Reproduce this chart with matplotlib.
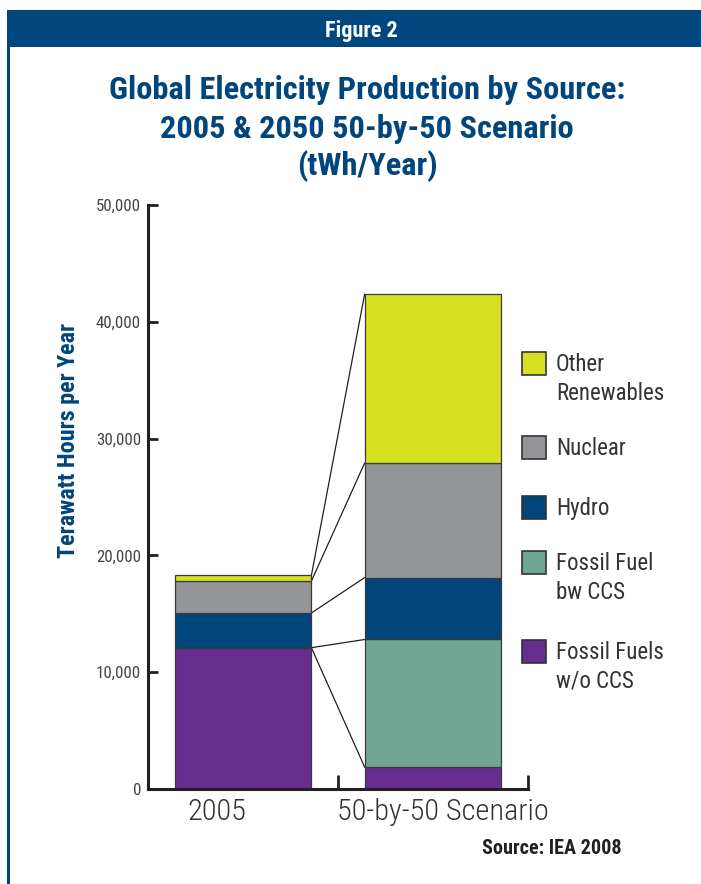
import numpy as np
import matplotlib
matplotlib.use('Agg')
import matplotlib.pyplot as plt
from matplotlib.patches import Rectangle
from matplotlib.ticker import FuncFormatter
from matplotlib import font_manager as fm
import matplotlib.transforms as mtransforms

# pick a narrow sans if one is around, otherwise plain DejaVu
names = {f.name for f in fm.fontManager.ttflist}
narrow = None
stretch = 'normal'
for n in ['Liberation Sans Narrow', 'Roboto Condensed', 'Noto Sans Condensed',
          'Open Sans Condensed', 'DejaVu Sans Condensed']:
    if n in names:
        narrow = n
        break
if narrow is None:
    for n in ['Noto Sans', 'Roboto', 'Open Sans', 'DejaVu Sans']:
        hits = [f for f in fm.fontManager.ttflist
                if f.name == n and f.stretch in ('condensed', 'semi-condensed', 'extra-condensed', 75, 87)]
        if hits:
            narrow = n
            stretch = hits[0].stretch
            break
if narrow is None:
    narrow = 'DejaVu Sans'
plt.rcParams['font.family'] = [narrow, 'DejaVu Sans']
plt.rcParams['font.stretch'] = stretch

# stacked production, TWh/year, bottom to top
categories = ['2005', '50-by-50 Scenario']
sources = ['Fossil Fuels\nw/o CCS', 'Fossil Fuel\nbw CCS', 'Hydro', 'Nuclear', 'Other\nRenewables']
fossil_no_ccs = [12100, 1880]
fossil_ccs = [0, 10920]
hydro = [2970, 5300]
nuclear = [2730, 9800]
other_renew = [500, 14450]
colors = ['#662d91', '#71a594', '#00457c', '#939598', '#d7df21']

yticks = [0, 10000, 20000, 30000, 40000, 50000]

W, H = 701, 884
navy = '#00467f'


def fx(x):
    return x / W


def fy(y):
    return 1 - y / H


fig = plt.figure(figsize=(W / 100, H / 100), dpi=100)
renderer = fig.canvas.get_renderer()


def fit(t, target, vertical=False):
    # scale the font so the text spans the given number of pixels
    bb = t.get_window_extent(renderer)
    size = bb.height if vertical else bb.width
    t.set_fontsize(t.get_fontsize() * target / size)
    return t.get_fontsize()


# header band and left border
fig.patches.append(Rectangle((fx(7), fy(47)), fx(701 - 7), 37 / H, transform=fig.transFigure,
                             facecolor=navy, edgecolor='none'))
fig.patches.append(Rectangle((fx(7), 0), fx(3), fy(47), transform=fig.transFigure,
                             facecolor=navy, edgecolor='none'))
head = fig.text(fx(361), fy(31), 'Figure 2', color='white', fontsize=15, fontweight='bold',
                ha='center', va='center')
fit(head, 73)

title = ['Global Electricity Production by Source:', '2005 & 2050 50-by-50 Scenario', '(tWh/Year)']
tt = []
for line, y in zip(title, [90, 129, 166]):
    tt.append(fig.text(fx(367), fy(y), line, color='#00457c', fontsize=24, fontweight='bold',
                       ha='center', va='center'))
tsize = fit(tt[0], 517)
for t in tt[1:]:
    t.set_fontsize(tsize)

ax = fig.add_axes([fx(148), fy(789), fx(528 - 148), (789 - 205) / H])

series = [fossil_no_ccs, fossil_ccs, hydro, nuclear, other_renew]
x = np.arange(len(categories))
width = 0.72
bottom = np.zeros(len(categories))
tops = []
for vals, c in zip(series, colors):
    ax.bar(x, vals, width=width, bottom=bottom, color=c, edgecolor='#3a3a3a',
           linewidth=0.9, zorder=2)
    bottom = bottom + np.array(vals)
    tops.append(bottom.copy())

# link each boundary in 2005 to the same boundary in 2050
for t in tops:
    ax.plot([x[0] + width / 2, x[1] - width / 2], [t[0], t[1]], color='#231f20',
            linewidth=0.9, zorder=1)

ax.set_xlim(-0.5, 1.5)
ax.set_ylim(0, 50000)
for s in ['top', 'right']:
    ax.spines[s].set_visible(False)
for s in ['left', 'bottom']:
    ax.spines[s].set_linewidth(2.2)
    ax.spines[s].set_color('#231f20')

ax.set_yticks(yticks)
ax.yaxis.set_major_formatter(FuncFormatter(lambda v, p: f'{int(v):,}'))
ax.tick_params(axis='y', direction='in', length=7, width=2, color='#231f20',
               labelsize=11, labelcolor='#444444', pad=5)
ax.set_xticks([0.5, 1.5])
ax.set_xticklabels([])
ax.tick_params(axis='x', direction='in', length=10, width=2, color='#231f20')

probe = fig.text(0, 0, '50,000', fontsize=11)
ax.tick_params(axis='y', labelsize=fit(probe, 45))
probe.remove()

trans = mtransforms.blended_transform_factory(ax.transData, ax.transAxes)
cl = []
for xc, lab in zip([-0.14, 1.05], categories):
    cl.append(ax.text(xc, -0.015, lab, transform=trans, ha='center', va='top', fontsize=24,
                      color='#333333', fontweight='light'))
cl[0].set_fontsize(fit(cl[1], 212))

ylab = fig.text(fx(68), fy(440), 'Terawatt Hours per Year', fontsize=16, fontweight='bold',
                color='#00457c', rotation=90, ha='center', va='center')
fit(ylab, 236, vertical=True)

# legend, top entry first
leg_y = [352, 436, 496, 551, 640]
lt = []
for (lab, c), y in zip(list(zip(sources, colors))[::-1], leg_y):
    fig.patches.append(Rectangle((fx(522), fy(y + 23)), fx(24), 23 / H,
                                 transform=fig.transFigure, facecolor=c,
                                 edgecolor='#333333', linewidth=1.2))
    lt.append(fig.text(fx(556), fy(y + 1), lab, fontsize=17, color='#333333', ha='left',
                       va='top', linespacing=1.33))
lsize = fit(lt[0], 100) * 1.08
for t in lt:
    t.set_fontsize(lsize)

src = fig.text(fx(622), fy(849), 'Source: IEA 2008', fontsize=15, fontweight='bold',
               color='#231f20', ha='right', va='center')
fit(src, 140)

fig.savefig('out.png', dpi=100)
